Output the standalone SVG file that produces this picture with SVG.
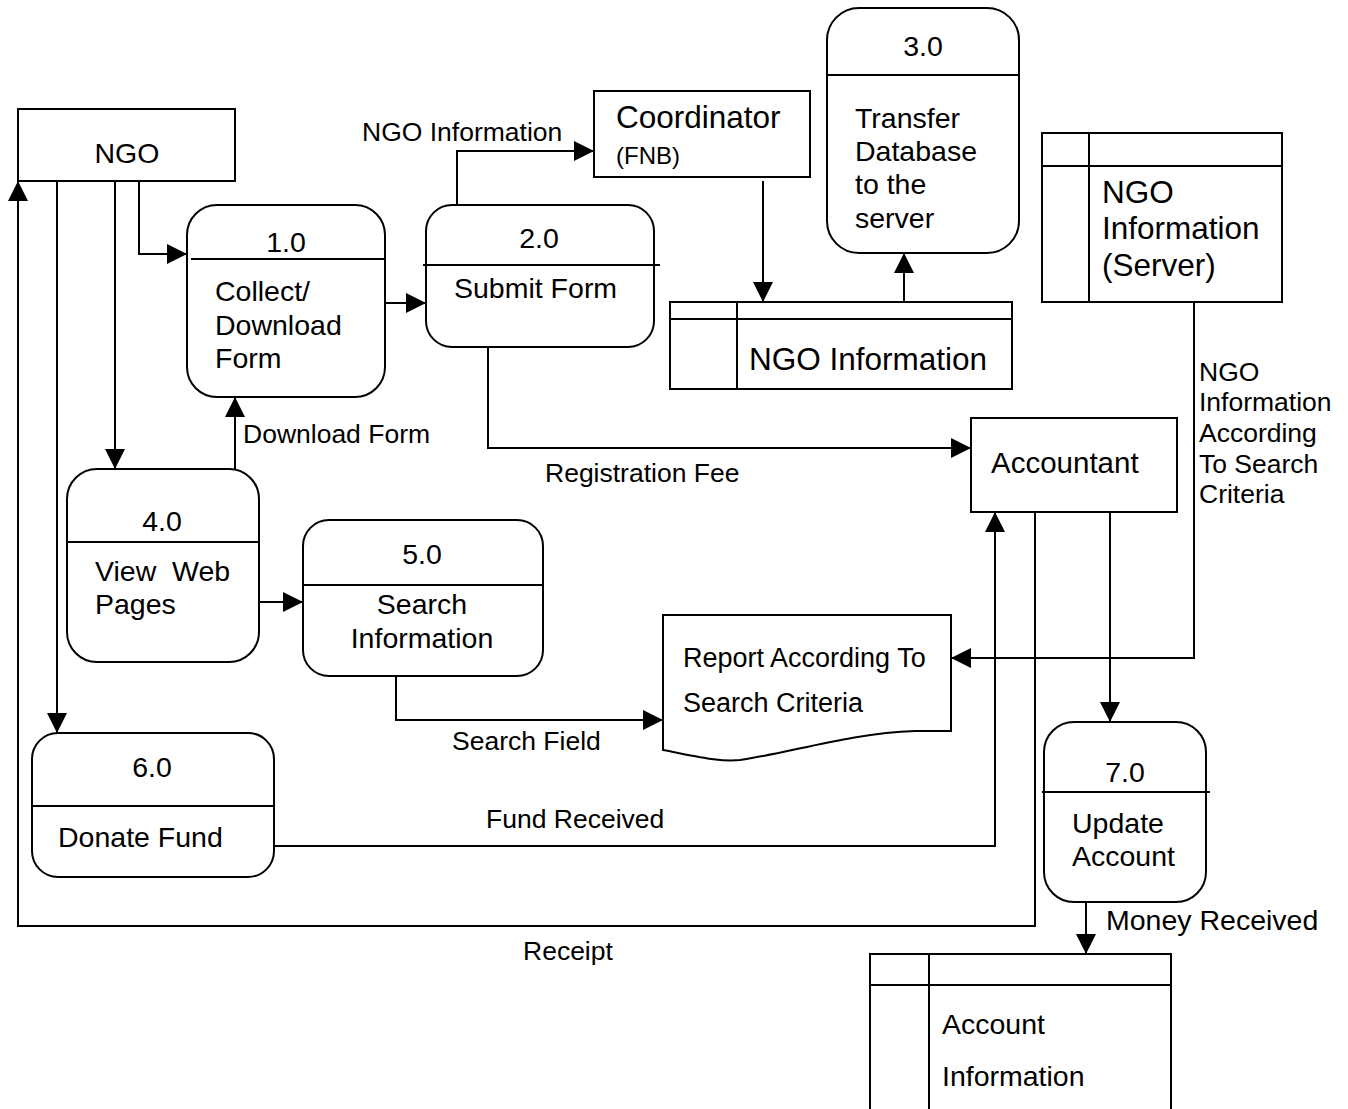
<svg xmlns="http://www.w3.org/2000/svg" width="1348" height="1109" viewBox="0 0 1348 1109">
  <style>
    .box { fill: #fff; stroke: #000; stroke-width: 2; }
    .ln { fill: none; stroke: #000; stroke-width: 2; }
    .flow { fill: none; stroke: #000; stroke-width: 2; marker-end: url(#arrow); }
    text { font-family: "Liberation Sans", Arial, sans-serif; fill: #000; }
    .t { font-size: 28.5px; }
    .big { font-size: 31.5px; }
    .lbl { font-size: 26.5px; }
    .mid { text-anchor: middle; }
  </style>
  <defs>
    <marker id="arrow" markerUnits="userSpaceOnUse" markerWidth="20" markerHeight="20" refX="20" refY="10" orient="auto">
      <path d="M0,0 L20,10 L0,20 Z" fill="#000"/>
    </marker>
  </defs>
  <rect width="1348" height="1109" fill="#fff"/>

  <!-- data flows -->
  <g id="connectors">
    <polyline class="flow" points="139,181 139,254 187,254"/>
    <polyline class="flow" points="115,181 115,469"/>
    <polyline class="flow" points="57,181 57,733"/>
    <polyline class="flow" points="385,303 426,303"/>
    <polyline class="flow" points="457,205 457,151 594,151"/>
    <polyline class="flow" points="763,181 763,302"/>
    <polyline class="flow" points="904,302 904,253"/>
    <polyline class="flow" points="488,347 488,448 971,448"/>
    <polyline class="flow" points="235,469 235,397"/>
    <polyline class="flow" points="259,602 303,602"/>
    <polyline class="flow" points="396,676 396,720 663,720"/>
    <polyline class="flow" points="1194,302 1194,658 951,658"/>
    <polyline class="flow" points="274,846 995,846 995,512"/>
    <polyline class="flow" points="1110,512 1110,722"/>
    <polyline class="flow" points="1035,512 1035,926 18,926 18,181"/>
    <polyline class="flow" points="1086,902 1086,954"/>

    <text class="lbl" x="362" y="141">NGO Information</text>
    <text class="lbl" x="243" y="443">Download Form</text>
    <text class="lbl" x="545" y="482">Registration Fee</text>
    <text class="lbl" x="452" y="750">Search Field</text>
    <text class="lbl" x="486" y="828">Fund Received</text>
    <text class="lbl" x="523" y="960">Receipt</text>
    <text class="t" x="1106" y="930">Money Received</text>
    <text class="lbl" x="1199" y="381">NGO</text>
    <text class="lbl" x="1199" y="411">Information</text>
    <text class="lbl" x="1199" y="442">According</text>
    <text class="lbl" x="1199" y="473">To Search</text>
    <text class="lbl" x="1199" y="503">Criteria</text>
  </g>

  <!-- external entities -->
  <g id="ngo">
    <rect class="box" x="18" y="109" width="217" height="72"/>
    <text class="t mid" x="127" y="163">NGO</text>
  </g>
  <g id="coordinator">
    <rect class="box" x="594" y="91" width="216" height="86"/>
    <text x="616" y="128" font-size="31.5">Coordinator</text>
    <text x="616" y="164" font-size="24">(FNB)</text>
  </g>
  <g id="accountant">
    <rect class="box" x="971" y="418" width="206" height="94"/>
    <text x="991" y="473" font-size="29.5">Accountant</text>
  </g>

  <!-- processes -->
  <g id="p1">
    <rect class="box" x="187" y="205" width="198" height="192" rx="30"/>
    <line class="ln" x1="191" y1="259" x2="384" y2="259"/>
    <text class="t mid" x="286" y="252">1.0</text>
    <text class="t" x="215" y="301">Collect/</text>
    <text class="t" x="215" y="335">Download</text>
    <text class="t" x="215" y="368">Form</text>
  </g>
  <g id="p2">
    <rect class="box" x="426" y="205" width="228" height="142" rx="26"/>
    <line class="ln" x1="423" y1="265" x2="660" y2="265"/>
    <text class="t mid" x="539" y="248">2.0</text>
    <text class="t" x="454" y="298">Submit Form</text>
  </g>
  <g id="p3">
    <rect class="box" x="827" y="8" width="192" height="245" rx="32"/>
    <line class="ln" x1="827" y1="75" x2="1019" y2="75"/>
    <text class="t mid" x="923" y="56">3.0</text>
    <text class="t" x="855" y="128">Transfer</text>
    <text class="t" x="855" y="161">Database</text>
    <text class="t" x="855" y="194">to the</text>
    <text class="t" x="855" y="228">server</text>
  </g>
  <g id="p4">
    <rect class="box" x="67" y="469" width="192" height="193" rx="30"/>
    <line class="ln" x1="67" y1="542" x2="259" y2="542"/>
    <text class="t mid" x="162" y="531">4.0</text>
    <text class="t" x="95" y="581" xml:space="preserve">View  Web</text>
    <text class="t" x="95" y="614">Pages</text>
  </g>
  <g id="p5">
    <rect class="box" x="303" y="520" width="240" height="156" rx="26"/>
    <line class="ln" x1="303" y1="585" x2="543" y2="585"/>
    <text class="t mid" x="422" y="564">5.0</text>
    <text class="t mid" x="422" y="614">Search</text>
    <text class="t mid" x="422" y="648">Information</text>
  </g>
  <g id="p6">
    <rect class="box" x="32" y="733" width="242" height="144" rx="26"/>
    <line class="ln" x1="32" y1="806" x2="274" y2="806"/>
    <text class="t mid" x="152" y="777">6.0</text>
    <text class="t" x="58" y="847">Donate Fund</text>
  </g>
  <g id="p7">
    <rect class="box" x="1044" y="722" width="162" height="180" rx="30"/>
    <line class="ln" x1="1042" y1="792" x2="1210" y2="792"/>
    <text class="t mid" x="1125" y="782">7.0</text>
    <text class="t" x="1072" y="833">Update</text>
    <text class="t" x="1072" y="866">Account</text>
  </g>

  <!-- data stores -->
  <g id="store-ngo">
    <rect class="box" x="670" y="302" width="342" height="87"/>
    <line class="ln" x1="670" y1="319" x2="1012" y2="319"/>
    <line class="ln" x1="737" y1="302" x2="737" y2="389"/>
    <text class="big" x="749" y="370">NGO Information</text>
  </g>
  <g id="store-server">
    <rect class="box" x="1042" y="133" width="240" height="169"/>
    <line class="ln" x1="1042" y1="166" x2="1282" y2="166"/>
    <line class="ln" x1="1089" y1="133" x2="1089" y2="302"/>
    <text class="big" x="1102" y="203">NGO</text>
    <text class="big" x="1102" y="239">Information</text>
    <text class="big" x="1102" y="276">(Server)</text>
  </g>
  <g id="store-account">
    <rect class="box" x="870" y="954" width="301" height="170"/>
    <line class="ln" x1="870" y1="985" x2="1171" y2="985"/>
    <line class="ln" x1="929" y1="954" x2="929" y2="1124"/>
    <text class="t" x="942" y="1034">Account</text>
    <text class="t" x="942" y="1086">Information</text>
  </g>

  <!-- report document -->
  <g id="report">
    <path class="box" d="M663,615 L951,615 L951,731 L915,731 C850,733 790,753 740,760 C720,762 700,757 663,750 Z"/>
    <text font-size="27" x="683" y="667">Report According To</text>
    <text font-size="27" x="683" y="712">Search Criteria</text>
  </g>
</svg>
